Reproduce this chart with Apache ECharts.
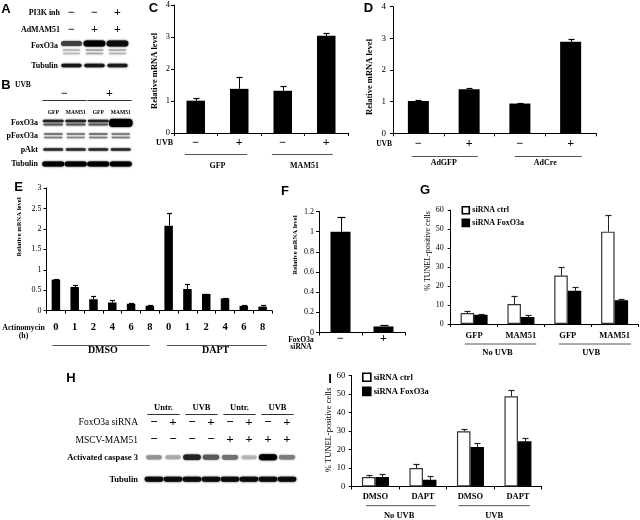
<!DOCTYPE html>
<html><head><meta charset="utf-8">
<script src="https://cdn.jsdelivr.net/npm/echarts@6/dist/echarts.min.js"></script>
<style>html,body{margin:0;padding:0;background:#fff}#c{width:640px;height:520px}</style>
</head><body><div id="c"></div><script>
// ================= DATA =================
// Panel A (western blot)
const aPI3K = ['−','−','+'];
const aMAM51 = ['−','+','+'];
const aFoxO3a = [0.72, 1.0, 0.95];
const aFoxO3aFaint1 = [0.22, 0.3, 0.25];
const aFoxO3aFaint2 = [0.18, 0.25, 0.2];
const aTubulin = [0.9, 0.9, 0.88];
// Panel B (western blot)
const bUVB = ['−','+'];
const bLanes = ['GFP','MAM51','GFP','MAM51'];
const bFoxO3aUpper = [0.85, 0.85, 0.85, 1.0];
const bFoxO3aLower = [0.6, 0.6, 0.6, 1.0];
const bFoxO3aStrong = [0, 0, 0, 1.0];
const bPFoxO3aUpper = [0.55, 0.5, 0.55, 0.5];
const bPFoxO3aLower = [0.45, 0.4, 0.45, 0.45];
const bPAkt = [0.8, 0.8, 0.8, 0.8];
const bTubulin = [1.0, 1.0, 1.0, 1.0];
// Panel C
const cUVB = ['−','+','−','+'];
const cGroups = ['GFP','MAM51'];
const cMean = [1.01, 1.38, 1.32, 3.04];
const cErr = [0.09, 0.36, 0.15, 0.08];
// Panel D
const dUVB = ['−','+','−','+'];
const dGroups = ['AdGFP','AdCre'];
const dMean = [1.02, 1.39, 0.94, 2.89];
const dErr = [0.03, 0.04, 0.03, 0.08];
// Panel E
const eHours = ['0','1','2','4','6','8','0','1','2','4','6','8'];
const eGroups = ['DMSO','DAPT'];
const eMean = [0.76, 0.58, 0.28, 0.20, 0.17, 0.12, 2.08, 0.53, 0.41, 0.30, 0.12, 0.10];
const eErr  = [0.02, 0.05, 0.08, 0.05, 0.01, 0.01, 0.32, 0.12, 0.01, 0.01, 0.03, 0.04];
// Panel F
const fSiRNA = ['−','+'];
const fMean = [1.0, 0.06];
const fErr = [0.15, 0.01];
// Panel G
const gCats = ['GFP','MAM51','GFP','MAM51'];
const gGroups = ['No UVB','UVB'];
const gCtrl = [5.8, 10.5, 25.5, 48.6];
const gCtrlErr = [1.3, 4.0, 4.7, 8.8];
const gFox = [4.9, 3.7, 17.5, 12.5];
const gFoxErr = [0.4, 0.8, 2.2, 0.4];
// Panel H (western blot)
const hHeader = ['Untr.','UVB','Untr.','UVB'];
const hSiRNA = ['−','+','−','+','−','+','−','+'];
const hMAM51 = ['−','−','−','−','+','+','+','+'];
const hCaspase = [0.35, 0.25, 0.85, 0.6, 0.5, 0.2, 1.0, 0.45];
const hTubulin = [0.95, 0.95, 0.95, 0.95, 0.95, 0.95, 0.95, 0.95];
// Panel I
const iCats = ['DMSO','DAPT','DMSO','DAPT'];
const iGroups = ['No UVB','UVB'];
const iCtrl = [5.1, 10.0, 29.8, 48.8];
const iCtrlErr = [0.9, 2.2, 1.5, 3.4];
const iFox = [5.1, 3.6, 21.3, 24.4];
const iFoxErr = [1.7, 2.2, 2.0, 2.0];
const legendNames = ['siRNA ctrl', 'siRNA FoxO3a'];

// ================= BUILD =================
const SERIF = 'Liberation Serif', SANS = 'Liberation Sans';
const grid = [], xAxis = [], yAxis = [], series = [], els = [], legend = [];

function txt(x, y, text, o) {
  o = o || {};
  els.push({type:'text', x:x, y:y, rotation:o.rot || 0, silent:true, z:10,
    style:{text:text, fill:'#000', fontSize:o.size || 9, fontFamily:o.family || SERIF,
      fontWeight:o.bold ? 'bold' : 'normal', align:o.align || 'center', verticalAlign:'middle'}});
}
function hline(x1, x2, y, color) {
  els.push({type:'line', silent:true, z:10, shape:{x1:x1, y1:y, x2:x2, y2:y},
    style:{stroke:color || '#555', lineWidth:1}});
}

function errSeries(xi, yi, mean, err, offset, cap, color) {
  series.push({type:'custom', xAxisIndex:xi, yAxisIndex:yi, silent:true, z:5,
    data: mean.map((m, i) => [i, m, m + err[i]]),
    encode:{x:0, y:[1, 2]},
    renderItem:(params, api) => {
      const b = api.coord([api.value(0), api.value(1)]);
      const t = api.coord([api.value(0), api.value(2)]);
      const x = Math.round(b[0] + offset) + 0.5;
      const ty = Math.round(t[1]) + 0.5;
      return {type:'group', children:[
        {type:'line', shape:{x1:x, y1:b[1], x2:x, y2:ty}, style:{stroke:color, lineWidth:1}},
        {type:'line', shape:{x1:x - cap / 2, y1:ty, x2:x + cap / 2, y2:ty}, style:{stroke:color, lineWidth:1.2}}
      ]};
    }});
}

function barPanel(c) {
  const gi = grid.length;
  grid.push({left:c.left, top:c.top, width:c.width, height:c.height, containLabel:false, outerBoundsMode:'none'});
  xAxis.push({type:'category', gridIndex:gi, data:c.cats, boundaryGap:true,
    axisLine:{lineStyle:{color:'#000', width:1}},
    axisTick:{show:true, length:3, interval:0, alignWithLabel:false, lineStyle:{color:'#000'}},
    axisLabel:{interval:0, margin:c.labMargin, fontFamily:SERIF, fontSize:c.labSize, fontWeight:'bold', color:'#000'},
    splitLine:{show:false}});
  const xi = xAxis.length - 1;
  if (c.groups) {
    xAxis.push({type:'category', gridIndex:gi, data:c.groups, position:'bottom',
      axisLine:{show:false}, axisTick:{show:false}, splitLine:{show:false},
      axisLabel:{interval:0, margin:c.grpMargin, fontFamily:SERIF, fontSize:c.grpSize, fontWeight:'bold', color:'#000'}});
  }
  yAxis.push({type:'value', gridIndex:gi, min:0, max:c.yMax, interval:c.yInt,
    axisLine:{show:true, lineStyle:{color:'#000', width:1}},
    axisTick:{show:true, length:3, lineStyle:{color:'#000'}},
    splitLine:{show:false},
    axisLabel:{margin:c.yMargin, fontFamily:SERIF, fontSize:c.ySize, color:'#000'}});
  const yi = yAxis.length - 1;
  if (c.groups) {
    const cw = c.width / c.cats.length, per = c.cats.length / c.groups.length;
    c.groups.forEach((g, k) => {
      const x1 = c.left + k * per * cw + c.padL[k] * cw;
      const x2 = c.left + (k + 1) * per * cw - c.padR[k] * cw;
      hline(x1, x2, c.ulY, '#555');
    });
  }
  return {xi:xi, yi:yi};
}

// ---- C ----
(function(){
  const ax = barPanel({left:174, top:5, width:174, height:128, cats:cUVB, groups:cGroups,
    labMargin:4, labSize:12, grpMargin:29, grpSize:8, yMax:4, yInt:1, yMargin:4, ySize:8.5,
    padL:[0.25, 0.25], padR:[0.32, 0.35], ulY:154.5});
  series.push({type:'bar', xAxisIndex:ax.xi, yAxisIndex:ax.yi, data:cMean, barWidth:18.5, itemStyle:{color:'#000'}, silent:true});
  errSeries(ax.xi, ax.yi, cMean, cErr, 0, 6, '#000');
  txt(173, 143, 'UVB', {bold:true, size:8, align:'right'});
  txt(154.5, 71, 'Relative mRNA level', {bold:true, size:8.5, rot:Math.PI/2});
  txt(153.5, 8, 'C', {bold:true, size:13, family:SANS});
})();
// ---- D ----
(function(){
  const ax = barPanel({left:393, top:6.7, width:203, height:126.6, cats:dUVB, groups:dGroups,
    labMargin:5, labSize:12, grpMargin:26, grpSize:8, yMax:4, yInt:1, yMargin:7, ySize:9,
    padL:[0.37, 0.4], padR:[0.33, 0.28], ulY:156.5});
  series.push({type:'bar', xAxisIndex:ax.xi, yAxisIndex:ax.yi, data:dMean, barWidth:21, itemStyle:{color:'#000'}, silent:true});
  errSeries(ax.xi, ax.yi, dMean, dErr, 0, 6, '#000');
  txt(392, 144, 'UVB', {bold:true, size:7.5, align:'right'});
  txt(370, 77, 'Relative mRNA level', {bold:true, size:8.5, rot:Math.PI/2});
  txt(368.5, 8, 'D', {bold:true, size:13, family:SANS});
})();
// ---- E ----
(function(){
  const ax = barPanel({left:46.5, top:188, width:225.5, height:122.7, cats:eHours, groups:eGroups,
    labMargin:11, labSize:10.5, grpMargin:35, grpSize:10, yMax:3, yInt:0.5, yMargin:5, ySize:8,
    padL:[0.32, 0.4], padR:[0.5, 0.27], ulY:345.5});
  series.push({type:'bar', xAxisIndex:ax.xi, yAxisIndex:ax.yi, data:eMean, barWidth:8.5, itemStyle:{color:'#000'}, silent:true});
  errSeries(ax.xi, ax.yi, eMean, eErr, 0, 5, '#000');
  txt(23.5, 327.7, 'Actinomycin', {bold:true, size:7.8});
  txt(23.5, 336, '(h)', {bold:true, size:7.8});
  txt(19.5, 227, 'Relative mRNA level', {bold:true, size:6.6, rot:Math.PI/2});
  txt(18.5, 187, 'E', {bold:true, size:13, family:SANS});
})();
// ---- F ----
(function(){
  const ax = barPanel({left:319, top:211.5, width:86, height:121, cats:fSiRNA, groups:null,
    labMargin:0, labSize:12, yMax:1.2, yInt:0.2, yMargin:5, ySize:8});
  series.push({type:'bar', xAxisIndex:ax.xi, yAxisIndex:ax.yi, data:fMean, barWidth:20, itemStyle:{color:'#000'}, silent:true});
  errSeries(ax.xi, ax.yi, fMean, fErr, 0, 8, '#000');
  txt(301, 340, 'FoxO3a', {bold:true, size:7.5});
  txt(301, 347.5, 'siRNA', {bold:true, size:7.5});
  txt(295, 245, 'Relative mRNA level', {bold:true, size:6.6, rot:Math.PI/2});
  txt(285, 191, 'F', {bold:true, size:13, family:SANS});
})();
// ---- G ----
(function(){
  const ax = barPanel({left:450.7, top:210, width:187.3, height:114, cats:gCats, groups:gGroups,
    labMargin:7, labSize:8.5, grpMargin:24.5, grpSize:8.5, yMax:60, yInt:10, yMargin:7, ySize:8,
    padL:[0.3, 0.31], padR:[0.17, 0.15], ulY:344});
  series.push({type:'bar', name:legendNames[0], xAxisIndex:ax.xi, yAxisIndex:ax.yi, data:gCtrl, barWidth:13.5, barGap:'0%',
    itemStyle:{color:'#fff', borderColor:'#333', borderWidth:1.2}, silent:true});
  series.push({type:'bar', name:legendNames[1], xAxisIndex:ax.xi, yAxisIndex:ax.yi, data:gFox, barWidth:13.5, barGap:'0%',
    itemStyle:{color:'#000', borderColor:'#000', borderWidth:1.2}, silent:true});
  errSeries(ax.xi, ax.yi, gCtrl, gCtrlErr, -6.75, 6, '#222');
  errSeries(ax.xi, ax.yi, gFox, gFoxErr, 6.75, 6, '#222');
  legend.push({left:461.5, top:206, orient:'vertical', itemWidth:7, itemHeight:7, itemGap:4, padding:0,
    data:legendNames, icon:'rect', selectedMode:false,
    itemStyle:{borderColor:'#000', borderWidth:1.6},
    textStyle:{fontFamily:SERIF, fontSize:8, fontWeight:'bold', color:'#000', padding:[0,0,0,-2]}});
  txt(428, 251, '% TUNEL-positive cells', {size:8, rot:Math.PI/2});
  txt(425, 190, 'G', {bold:true, size:13, family:SANS});
})();
// ---- I ----
(function(){
  const ax = barPanel({left:351.7, top:375.5, width:190, height:111, cats:iCats, groups:iGroups,
    labMargin:6, labSize:8.5, grpMargin:24.5, grpSize:8.5, yMax:60, yInt:10, yMargin:6.5, ySize:8.5,
    padL:[0.3, 0.25], padR:[0.23, 0.25], ulY:505.7});
  series.push({type:'bar', name:legendNames[0], xAxisIndex:ax.xi, yAxisIndex:ax.yi, data:iCtrl, barWidth:13.5, barGap:'0%',
    itemStyle:{color:'#fff', borderColor:'#333', borderWidth:1.2}, silent:true});
  series.push({type:'bar', name:legendNames[1], xAxisIndex:ax.xi, yAxisIndex:ax.yi, data:iFox, barWidth:13.5, barGap:'0%',
    itemStyle:{color:'#000', borderColor:'#000', borderWidth:1.2}, silent:true});
  errSeries(ax.xi, ax.yi, iCtrl, iCtrlErr, -6.75, 6, '#222');
  errSeries(ax.xi, ax.yi, iFox, iFoxErr, 6.75, 6, '#222');
  legend.push({left:362, top:372.5, orient:'vertical', itemWidth:8, itemHeight:8, itemGap:4.5, padding:0,
    data:legendNames, icon:'rect', selectedMode:false,
    itemStyle:{borderColor:'#000', borderWidth:1.6},
    textStyle:{fontFamily:SERIF, fontSize:8.5, fontWeight:'bold', color:'#000', padding:[0,0,0,-2]}});
  txt(329, 430, '% TUNEL-positive cells', {size:8.5, rot:Math.PI/2});
  txt(330, 379, 'I', {bold:true, size:13, family:SANS});
})();

// ---- western blots ----
function blot(c) {
  const gi = grid.length;
  grid.push({left:c.left, top:c.top, width:c.n * c.lw, height:c.h, containLabel:false, outerBoundsMode:'none', show:false});
  xAxis.push({type:'value', gridIndex:gi, min:-0.5, max:c.n - 0.5, show:false});
  yAxis.push({type:'value', gridIndex:gi, min:0, max:c.h, inverse:true, show:false});
  const xi = xAxis.length - 1, yi = yAxis.length - 1;
  const metas = [];
  (c.bands || []).forEach(r => r.data.forEach((v, i) => {
    if (v > 0) metas.push({k:'band', lane:i, y:r.y, v:v, bh:r.bh, bw:r.bw});
  }));
  (c.texts || []).forEach(r => r.data.forEach((t, i) => {
    metas.push({k:'text', lane:r.lane0 + i * r.step, y:r.y, t:t, size:r.size, bold:r.bold});
  }));
  (c.lines || []).forEach(r => {
    for (let i = 0; i < r.count; i++) metas.push({k:'line', lane:r.lane0 + i * r.step, y:r.y, half:r.half});
  });
  series.push({type:'custom', coordinateSystem:'cartesian2d', xAxisIndex:xi, yAxisIndex:yi, silent:true, z:4,
    data: metas.map(m => [m.lane, m.y]),
    renderItem:(params, api) => {
      const m = metas[params.dataIndex];
      const p = api.coord([m.lane, m.y]);
      const lw = api.size([1, 0])[0];
      if (m.k === 'text') {
        return {type:'text', x:p[0], y:p[1], style:{text:m.t, fill:'#000', fontSize:m.size,
          fontFamily:SERIF, fontWeight:m.bold ? 'bold' : 'normal', align:'center', verticalAlign:'middle'}};
      }
      if (m.k === 'line') {
        const y = Math.round(p[1]) + 0.5;
        return {type:'line', shape:{x1:p[0] - m.half * lw, y1:y, x2:p[0] + m.half * lw, y2:y}, style:{stroke:'#333', lineWidth:1}};
      }
      const w = lw * m.bw * (0.8 + 0.2 * m.v), h = m.bh * (0.55 + 0.45 * m.v);
      const g = Math.round(225 * (1 - m.v));
      const col = 'rgb(' + g + ',' + g + ',' + g + ')';
      return {type:'rect', shape:{x:p[0] - w / 2, y:p[1] - h / 2, width:w, height:h, r:h / 2},
        style:{fill:col, shadowBlur:2, shadowColor:col}};
    }});
}

// A
blot({left:60, top:0, n:3, lw:23, h:80,
  bands:[
    {y:43.5, bh:6, bw:0.95, data:aFoxO3a},
    {y:50, bh:2.2, bw:0.9, data:aFoxO3aFaint1},
    {y:53.5, bh:2.2, bw:0.9, data:aFoxO3aFaint2},
    {y:65.5, bh:3.6, bw:0.9, data:aTubulin}],
  texts:[
    {y:13.3, lane0:0, step:1, data:aPI3K, size:12, bold:true},
    {y:30, lane0:0, step:1, data:aMAM51, size:12, bold:true}]});
txt(60, 13.3, 'PI3K inh', {bold:true, size:8, align:'right'});
txt(60, 30, 'AdMAM51', {bold:true, size:8, align:'right'});
txt(58, 46, 'FoxO3a', {bold:true, size:8, align:'right'});
txt(58, 66, 'Tubulin', {bold:true, size:8, align:'right'});
txt(6, 9, 'A', {bold:true, size:13, family:SANS});

// B
blot({left:42, top:80, n:4, lw:22.5, h:95,
  bands:[
    {y:41, bh:2.8, bw:0.95, data:bFoxO3aUpper},
    {y:44.5, bh:2.6, bw:0.95, data:bFoxO3aLower},
    {y:43, bh:8, bw:1.05, data:bFoxO3aStrong},
    {y:54, bh:1.8, bw:0.92, data:bPFoxO3aUpper},
    {y:57.5, bh:1.8, bw:0.92, data:bPFoxO3aLower},
    {y:69.5, bh:2.8, bw:0.92, data:bPAkt},
    {y:84, bh:5, bw:0.98, data:bTubulin}],
  texts:[
    {y:14, lane0:0.5, step:2, data:bUVB, size:12, bold:true},
    {y:32.7, lane0:0, step:1, data:bLanes, size:5.5, bold:true}],
  lines:[{y:20, lane0:0.5, step:2, count:2, half:0.98}]});
txt(15, 85, 'UVB', {bold:true, size:7.5, align:'left'});
txt(38, 122.7, 'FoxO3a', {bold:true, size:8, align:'right'});
txt(38, 136, 'pFoxO3a', {bold:true, size:8, align:'right'});
txt(38, 149.5, 'pAkt', {bold:true, size:8, align:'right'});
txt(38, 164, 'Tubulin', {bold:true, size:8, align:'right'});
txt(6, 85.5, 'B', {bold:true, size:13, family:SANS});

// H
blot({left:144.5, top:400, n:8, lw:19, h:90,
  bands:[
    {y:57.3, bh:6, bw:0.95, data:hCaspase},
    {y:79.3, bh:5, bw:1.0, data:hTubulin}],
  texts:[
    {y:8, lane0:0.5, step:2, data:hHeader, size:8.5, bold:true},
    {y:22.7, lane0:0, step:1, data:hSiRNA, size:13, bold:true},
    {y:40, lane0:0, step:1, data:hMAM51, size:13, bold:true}],
  lines:[{y:13.5, lane0:0.5, step:2, count:4, half:0.85}]});
txt(138, 422.7, 'FoxO3a siRNA', {size:9.5, align:'right'});
txt(138, 440, 'MSCV-MAM51', {size:9.5, align:'right'});
txt(138, 457.3, 'Activated caspase 3', {bold:true, size:8.5, align:'right'});
txt(138, 479.3, 'Tubulin', {bold:true, size:8.5, align:'right'});
txt(71, 378, 'H', {bold:true, size:13, family:SANS});

const chart = echarts.init(document.getElementById('c'), null, {renderer:'canvas'});
chart.setOption({animation:false, backgroundColor:'#fff', tooltip:{show:false},
  grid:grid, xAxis:xAxis, yAxis:yAxis, series:series, legend:legend, graphic:{elements:els}});
</script></body></html>
